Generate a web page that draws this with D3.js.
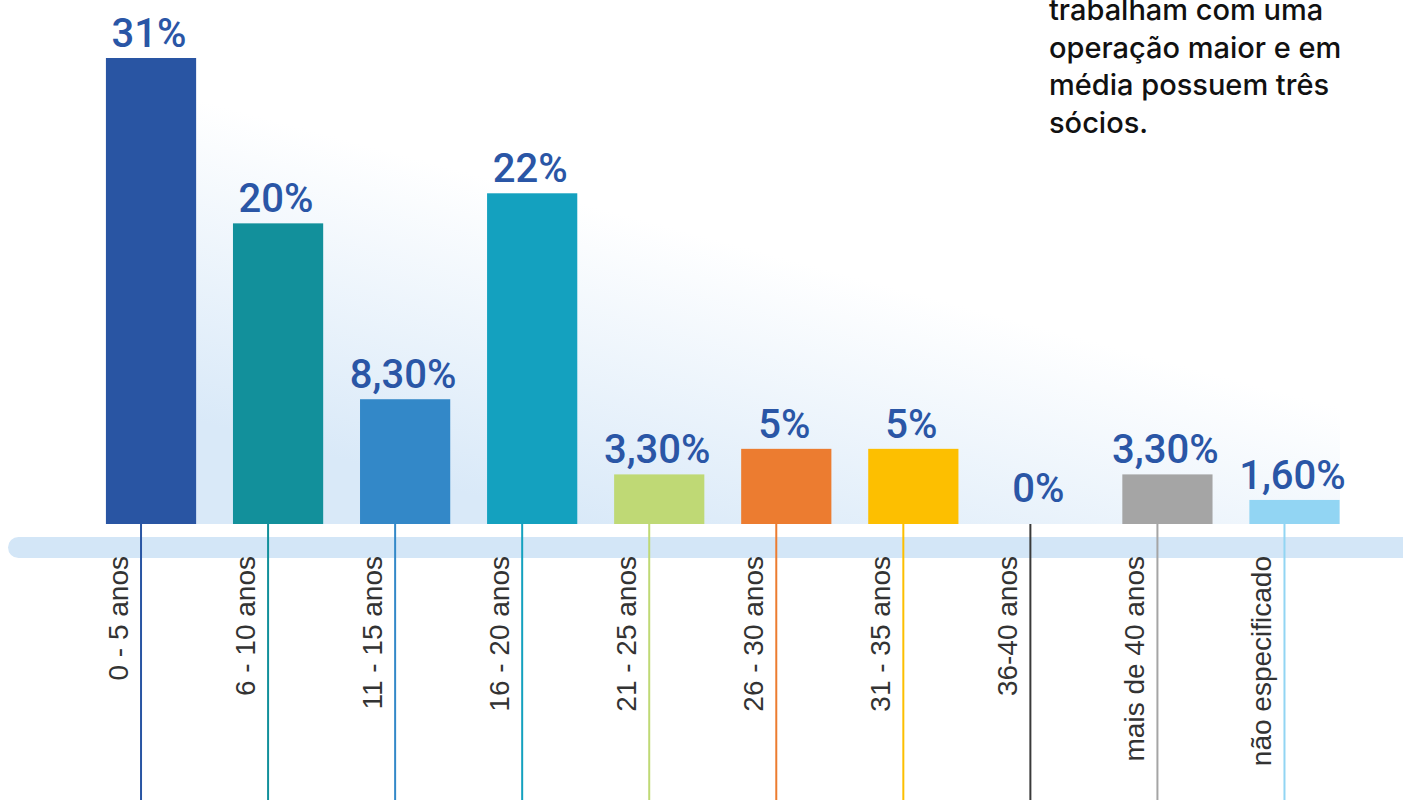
<!DOCTYPE html>
<html>
<head>
<meta charset="utf-8">
<script src="https://cdn.jsdelivr.net/npm/d3@7"></script>
<style>
  body { margin: 0; background: #fff; }
  svg { display: block; }
</style>
</head>
<body>
<svg id="chart" width="1403" height="800"></svg>
<script>
// dados do gráfico
var categorias = ['0 - 5 anos', '6 - 10 anos', '11 - 15 anos', '16 - 20 anos', '21 - 25 anos',
                  '26 - 30 anos', '31 - 35 anos', '36-40 anos', 'mais de 40 anos', 'não especificado'];
var valores = [31, 20, 8.3, 22, 3.3, 5, 5, 0, 3.3, 1.6];
var rotulos = ['31%', '20%', '8,30%', '22%', '3,30%', '5%', '5%', '0%', '3,30%', '1,60%'];
var cores = ['#2955a3', '#12909b', '#3388c8', '#14a1bf', '#bfd975',
             '#ec7c30', '#fdbf00', '#3a3a3a', '#a5a5a5', '#92d5f3'];
var texto = ['trabalham com uma', 'operação maior e em', 'média possuem três', 'sócios.'];

var svg = d3.select('#chart');

var x = d3.scaleBand()
  .domain(categorias)
  .range([87.5, 1358])
  .paddingInner(0.29)
  .paddingOuter(0.145);

var y = d3.scaleLinear()
  .domain([0, 31])
  .range([524, 58]);

// fundo em degradê (diagonal, do branco para o azul claro)
var defs = svg.append('defs');
var grad = defs.append('linearGradient')
  .attr('id', 'fundo')
  .attr('gradientUnits', 'userSpaceOnUse')
  .attr('x1', 200).attr('y1', 100)
  .attr('x2', 119).attr('y2', 400);
grad.append('stop').attr('offset', '0%').attr('stop-color', '#ffffff');
grad.append('stop').attr('offset', '100%').attr('stop-color', '#d9e9f8');

svg.append('rect')
  .attr('x', 106)
  .attr('y', 40)
  .attr('width', 1340 - 106)
  .attr('height', y(0) - 40)
  .attr('fill', 'url(#fundo)');

// faixa do eixo
svg.append('rect')
  .attr('x', 8)
  .attr('y', 537)
  .attr('width', 1420)
  .attr('height', 21)
  .attr('rx', 10.5)
  .attr('fill', '#d3e6f7');

// barras
svg.selectAll('rect.barra')
  .data(valores)
  .enter()
  .append('rect')
  .attr('class', 'barra')
  .attr('x', function(d, i) { return x(categorias[i]); })
  .attr('y', function(d) { return y(d); })
  .attr('width', x.bandwidth())
  .attr('height', function(d) { return y(0) - y(d); })
  .attr('fill', function(d, i) { return cores[i]; });

// linhas de chamada
svg.selectAll('line.guia')
  .data(categorias)
  .enter()
  .append('line')
  .attr('class', 'guia')
  .attr('x1', function(d) { return x(d) + x.bandwidth() / 2 - 10; })
  .attr('x2', function(d) { return x(d) + x.bandwidth() / 2 - 10; })
  .attr('y1', y(0))
  .attr('y2', 800)
  .attr('stroke', function(d, i) { return cores[i]; })
  .attr('stroke-width', 2);

// valores
svg.selectAll('text.valor')
  .data(valores)
  .enter()
  .append('text')
  .attr('class', 'valor')
  .attr('x', function(d, i) { return x(categorias[i]) + x.bandwidth() / 2 - 2; })
  .attr('y', function(d) { return y(d) - (d === 0 ? 22 : 11); })
  .attr('text-anchor', 'middle')
  .attr('font-family', 'Roboto, sans-serif')
  .attr('font-weight', 500)
  .attr('font-size', 40)
  .attr('fill', '#2a56a6')
  .text(function(d, i) { return rotulos[i]; });

// categorias (texto vertical)
svg.selectAll('text.cat')
  .data(categorias)
  .enter()
  .append('text')
  .attr('class', 'cat')
  .attr('transform', function(d) {
      return 'translate(' + (x(d) + x.bandwidth() / 2 - 23) + ',556) rotate(-90)';
  })
  .attr('text-anchor', 'end')
  .attr('font-family', '"Liberation Sans", Arial, sans-serif')
  .attr('font-size', 28)
  .attr('fill', '#333')
  .text(function(d) { return d; });

// texto no canto superior direito
svg.append('text')
  .attr('font-family', 'Inter, sans-serif')
  .attr('font-weight', 500)
  .attr('font-size', 29)
  .attr('fill', '#111')
  .selectAll('tspan')
  .data(texto)
  .enter()
  .append('tspan')
  .attr('x', 1049)
  .attr('y', function(d, i) { return 20 + i * 37.7; })
  .text(function(d) { return d; });
</script>
</body>
</html>
